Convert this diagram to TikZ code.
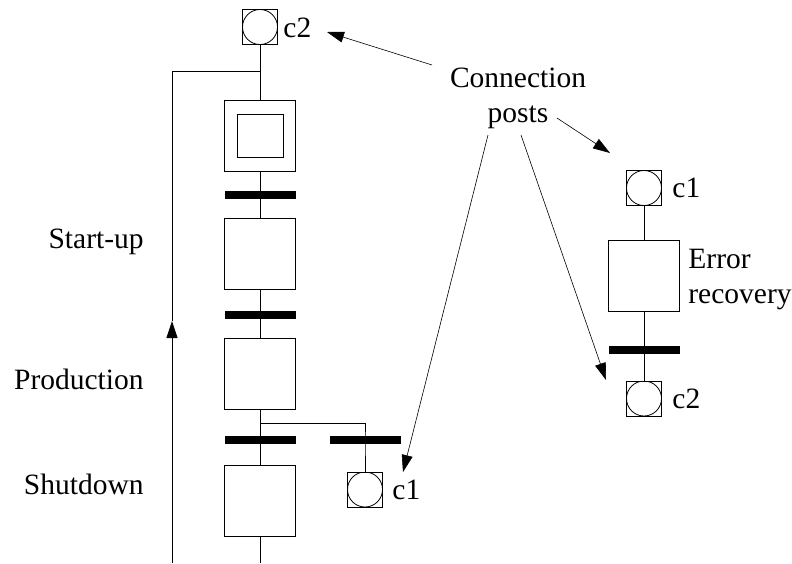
\documentclass[tikz,border=0pt]{standalone}
\usepackage{fontspec}
\setmainfont{Liberation Serif}
\usetikzlibrary{arrows.meta, positioning}

\begin{document}
\begin{tikzpicture}[x=1pt, y=-1pt, line width=0.8pt,
  stepbox/.style={draw, minimum size=71pt, inner sep=0pt},
  bar/.style={fill=black, minimum width=71pt, minimum height=8pt, inner sep=0pt},
  post/.style={draw, minimum size=35pt, inner sep=0pt,
    path picture={\draw (path picture bounding box.center) circle (17.5pt);}},
  lbl/.style={inner sep=0pt, font=\fontsize{29.5}{35}\selectfont},
  pointer/.style={-{Triangle[length=17pt, width=11pt]}, line width=0.6pt}]
 \useasboundingbox (0,0) rectangle (792,563);
 % main sequence
 \node[post] (c2top) at (260,27) {};
 \node[stepbox] (s0) at (260,135.5) {};
 \node[draw, minimum width=46pt, minimum height=43pt, inner sep=0pt] (s0in) at (s0.center) {};
 \node[bar] (t1) at (260,195) {};
 \node[stepbox] (s1) at (260,254) {};
 \node[bar] (t2) at (260,315) {};
 \node[stepbox] (s2) at (260,374) {};
 \node[bar] (t3) at (260,440) {};
 \node[stepbox] (s3) at (260,500.5) {};
 \node[bar] (t3b) at (365,440) {};
 \node[post] (c1a) at (365,489.5) {};
 \coordinate (endmain) at (260,563);
 \coordinate (fork) at (260,423);
 \draw (c2top) -- (s0);
 \draw (s0) -- (s1);
 \draw (s1) -- (s2);
 \draw (s2) -- (s3);
 \draw (s3) -- (endmain);
 \draw (fork) -| (t3b.center) -- (c1a);
 % loop back
 \coordinate (loopbot) at (172,563);
 \coordinate (looptop) at (172,71);
 \coordinate (loopmid) at (172,321);
 \coordinate (loopjoin) at (260,71);
 \draw[-{Triangle[length=17pt, width=11pt]}] (loopbot) -- (loopmid);
 \draw (loopmid) -- (looptop) -- (loopjoin);
 % error recovery
 \node[post] (c1b) at (644,188) {};
 \node[stepbox] (s4) at (644,276) {};
 \node[bar] (t4) at (644,350) {};
 \node[post] (c2b) at (644,398.5) {};
 \draw (c1b) -- (s4);
 \draw (s4) -- (c2b);
 % labels
 \node[lbl, anchor=base west] at (283,37) {c2};
 \node[lbl, anchor=base west] at (392,499) {c1};
 \node[lbl, anchor=base west] at (672,197) {c1};
 \node[lbl, anchor=base west] at (672,408) {c2};
 \node[lbl, anchor=base east] at (144,248) {Start-up};
 \node[lbl, anchor=base east] at (144,389) {Production};
 \node[lbl, anchor=base east] at (144,494) {Shutdown};
 \node[lbl, align=left, anchor=west] (errlbl) at (688,280) {Error\\recovery};
 \node[lbl, align=center] (cpost) at (518,98) {Connection\\posts};
 % pointers
 \coordinate (p1) at (432,65);
 \coordinate (p2) at (557,118);
 \coordinate (p3) at (488,135);
 \coordinate (p4) at (521,135);
 \coordinate (q1) at (327,32);
 \coordinate (q2) at (610,153);
 \coordinate (q3) at (403,472);
 \coordinate (q4) at (606,380);
 \draw[pointer] (p1) -- (q1);
 \draw[pointer] (p2) -- (q2);
 \draw[pointer] (p3) -- (q3);
 \draw[pointer] (p4) -- (q4);
\end{tikzpicture}
\end{document}
